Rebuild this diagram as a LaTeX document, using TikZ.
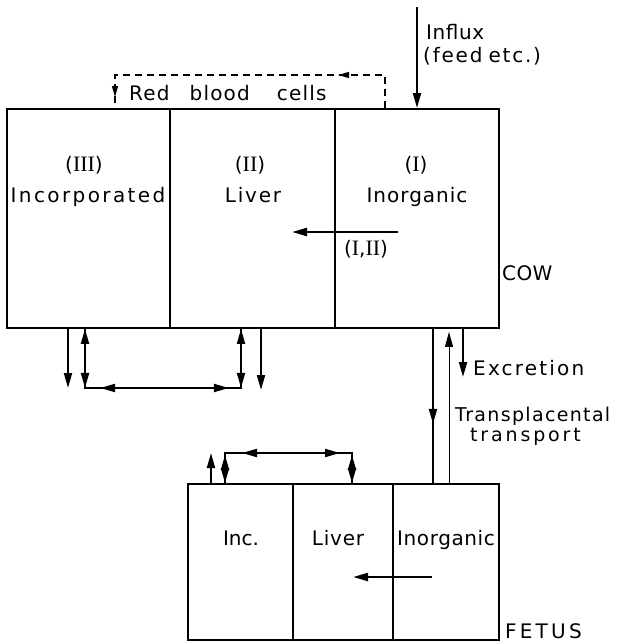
\documentclass[tikz,border=0pt]{standalone}
\usepackage{fontspec}
\setmainfont{DejaVu Sans}
\newfontfamily\romfont{Liberation Serif}
\usetikzlibrary{arrows.meta,decorations.markings}
\newcommand\tipmark{\arrow{Triangle[length=15pt,width=8pt]}}
\newcommand\smalltipmark{\arrow{Triangle[length=11pt,width=6pt]}}
\newcommand\rn[1]{{\fontsize{22}{24}\romfont #1}}
\tikzset{myhead/.tip={Triangle[length=15pt,width=8pt]}}
\begin{document}
\begin{tikzpicture}[x=1pt,y=-1pt,
  cowbox/.style={draw,line width=1.9pt,inner sep=0pt,anchor=north west,minimum height=219pt},
  fetbox/.style={draw,line width=1.7pt,inner sep=0pt,anchor=north west,minimum height=156pt},
  lbl/.style={inner sep=0pt,anchor=base,font=\fontsize{20}{22}\selectfont\addfontfeatures{LetterSpace=#1}},
  lbl/.default=0,
  slbl/.style={inner sep=0pt,anchor=base west,font=\fontsize{19}{22}\selectfont\addfontfeatures{LetterSpace=#1}},
  arr/.style={line width=2pt,-myhead},
  conn/.style={line width=2pt},
  thinconn/.style={line width=1pt},
  dashconn/.style={line width=1.3pt,dash pattern=on 7pt off 5pt}
]
\useasboundingbox (0,0) rectangle (616,642);

% cow compartments
\node[cowbox,minimum width=163pt] (c3) at (6,108) {};
\node[cowbox,minimum width=165pt] (c2) at (169,108) {};
\node[cowbox,minimum width=164pt] (c1) at (334,108) {};
% fetus compartments
\node[fetbox,minimum width=105pt] (f3) at (187,483) {};
\node[fetbox,minimum width=100pt] (f2) at (292,483) {};
\node[fetbox,minimum width=106pt] (f1) at (392,483) {};

% cow labels
\node[lbl=2] (n3) at (84,171) {(\rn{III})};
\node[lbl=2] (n2) at (250,171) {(\rn{II})};
\node[lbl=2] (n1) at (416,171) {(\rn{I})};
\node[lbl=12] (t3) at (88,202) {Incorporated};
\node[lbl=9] (t2) at (253,202) {Liver};
\node[lbl=5] (t1) at (417,202) {Inorganic};
\node[lbl=11] (t12) at (366,255) {(\rn{I},\rn{II})};
\node[lbl=2,anchor=base west] (cow) at (502,280) {COW};
\node[lbl=3,anchor=base west] (influxl) at (426,40) {Influx};
\node[lbl=9,anchor=base west] (feedl) at (423,63) {(feed\hspace{6pt}etc.)};
\node[lbl=6,anchor=base west] (rbc) at (129,100) {Red\hspace{20pt}blood\hspace{27pt}cells};
\node[lbl=11,anchor=base west] (excl) at (473,375) {Excretion};
\node[slbl=7] (tpl) at (455,421) {Transplacental};
\node[slbl=15] (tpl2) at (470,441) {transport};
% fetus labels
\node[lbl=0] (g3) at (241,545) {Inc.};
\node[lbl=4] (g2) at (338,545) {Liver};
\node[lbl=3] (g1) at (446,545) {Inorganic};
\node[lbl=16,anchor=base west] (fetus) at (505,638) {FETUS};

% influx
\coordinate (influx) at (417,7);
\draw[arr] (influx) -- (influx |- c1.north);

% red blood cells (dashed)
\coordinate (rb1) at (385,75);
\coordinate (rb2) at (115,75);
\draw[dashconn,postaction={decorate},decoration={markings,
   mark=at position 80pt with {\smalltipmark},
   mark=at position 325pt with {\smalltipmark}}]
  (c1.north -| rb1) -- (rb1) -- (rb2) -- (c3.north -| rb2);

% internal cow arrow (I,II)
\coordinate (ia) at (398,232);
\coordinate (ib) at (292,232);
\draw[arr,line width=2.4pt] (ia) -- (ib);

% cow bottom exchange III <-> II
\coordinate (lc1) at (85,388);
\coordinate (lc2) at (241,388);
\draw[conn,-myhead,postaction={decorate},decoration={markings,
   mark=at position 59pt with {\tipmark},
   mark=at position 203pt with {\tipmark}}]
  (c3.south -| lc1) -- (lc1) -- (lc2) -- (c2.south -| lc2);
\draw[conn,-myhead,postaction={decorate},decoration={markings,
   mark=at position 59pt with {\tipmark},
   mark=at position 200pt with {\tipmark}}]
  (c2.south -| lc2) -- (lc2) -- (lc1) -- (c3.south -| lc1);
% cow bottom single outputs
\coordinate (e3) at (68,388);
\draw[arr] (c3.south -| e3) -- (e3);
\coordinate (e2) at (261,390);
\draw[arr] (c2.south -| e2) -- (e2);

% transplacental
\coordinate (tp1) at (433,400);
\draw[conn,postaction={decorate},decoration={markings,
   mark=at position 95pt with {\tipmark}}]
  (c1.south -| tp1) -- (f1.north -| tp1);
\coordinate (tp2) at (449,400);
\draw[thinconn,-myhead,shorten >=3pt] (f1.north -| tp2) -- (c1.south -| tp2);
% excretion
\coordinate (ex) at (463,377);
\draw[arr] (c1.south -| ex) -- (ex);

% fetus top
\coordinate (fu) at (211,453);
\draw[arr] (f3.north -| fu) -- (fu);
\coordinate (fl1) at (225,453);
\coordinate (fl2) at (352,453);
\draw[conn,-myhead,postaction={decorate},decoration={markings,
   mark=at position 28pt with {\tipmark},
   mark=at position 145pt with {\tipmark}}]
  (f3.north -| fl1) -- (fl1) -- (fl2) -- (f2.north -| fl2);
\draw[conn,-myhead,postaction={decorate},decoration={markings,
   mark=at position 28pt with {\tipmark},
   mark=at position 140pt with {\tipmark}}]
  (f2.north -| fl2) -- (fl2) -- (fl1) -- (f3.north -| fl1);

% fetus internal arrow
\coordinate (fa) at (432,577);
\coordinate (fb) at (353,577);
\draw[arr,line width=2.4pt] (fa) -- (fb);
\end{tikzpicture}
\end{document}
